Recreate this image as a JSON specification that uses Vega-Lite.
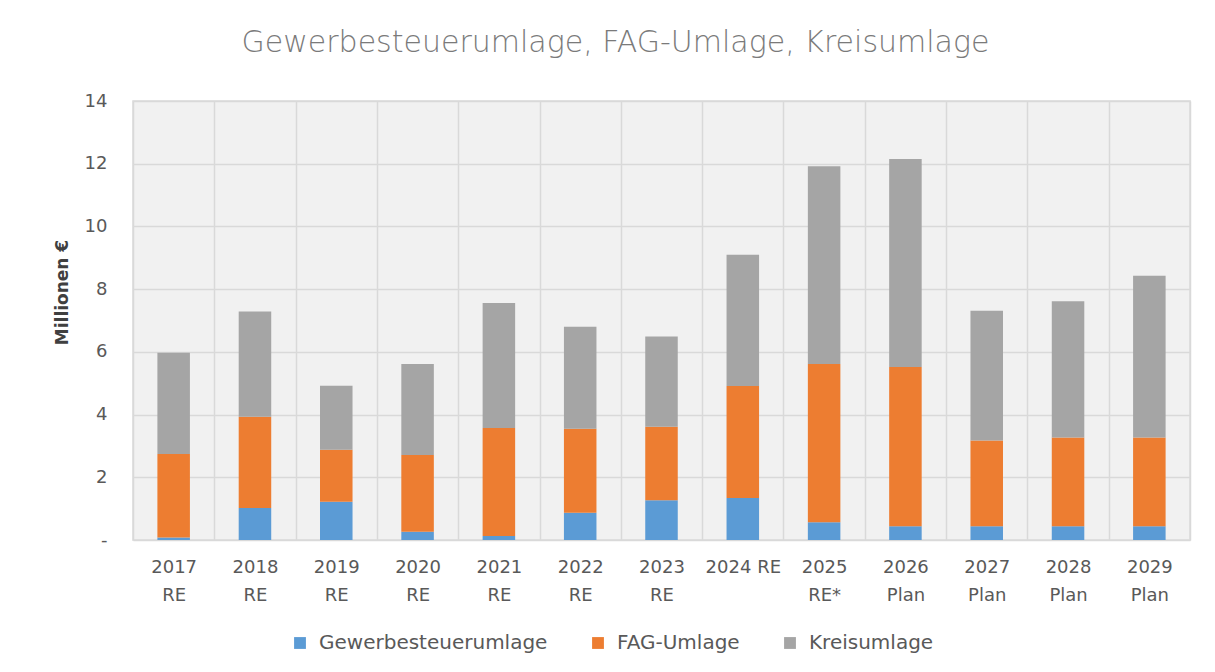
{
  "$schema": "https://vega.github.io/schema/vega-lite/v6.json",
  "autosize": "none",
  "width": 1057,
  "height": 439,
  "padding": {"left": 133, "top": 101, "right": 25, "bottom": 132},
  "background": "white",
  "title": {
    "text": "Gewerbesteuerumlage, FAG-Umlage, Kreisumlage",
    "font": "DejaVu Sans",
    "fontSize": 30,
    "fontWeight": 200,
    "color": "#7a7a7a",
    "anchor": "middle",
    "dx": -46,
    "offset": 34
  },
  "data": {
    "values": [
      {"Jahr": "2017 RE", "Nr": 1, "Art": "Gewerbesteuerumlage", "Wert": 0.08},
      {"Jahr": "2017 RE", "Nr": 2, "Art": "FAG-Umlage", "Wert": 2.66},
      {"Jahr": "2017 RE", "Nr": 3, "Art": "Kreisumlage", "Wert": 3.23},
      {"Jahr": "2018 RE", "Nr": 1, "Art": "Gewerbesteuerumlage", "Wert": 1.02},
      {"Jahr": "2018 RE", "Nr": 2, "Art": "FAG-Umlage", "Wert": 2.91},
      {"Jahr": "2018 RE", "Nr": 3, "Art": "Kreisumlage", "Wert": 3.36},
      {"Jahr": "2019 RE", "Nr": 1, "Art": "Gewerbesteuerumlage", "Wert": 1.22},
      {"Jahr": "2019 RE", "Nr": 2, "Art": "FAG-Umlage", "Wert": 1.66},
      {"Jahr": "2019 RE", "Nr": 3, "Art": "Kreisumlage", "Wert": 2.04},
      {"Jahr": "2020 RE", "Nr": 1, "Art": "Gewerbesteuerumlage", "Wert": 0.26},
      {"Jahr": "2020 RE", "Nr": 2, "Art": "FAG-Umlage", "Wert": 2.45},
      {"Jahr": "2020 RE", "Nr": 3, "Art": "Kreisumlage", "Wert": 2.9},
      {"Jahr": "2021 RE", "Nr": 1, "Art": "Gewerbesteuerumlage", "Wert": 0.13},
      {"Jahr": "2021 RE", "Nr": 2, "Art": "FAG-Umlage", "Wert": 3.44},
      {"Jahr": "2021 RE", "Nr": 3, "Art": "Kreisumlage", "Wert": 3.99},
      {"Jahr": "2022 RE", "Nr": 1, "Art": "Gewerbesteuerumlage", "Wert": 0.87},
      {"Jahr": "2022 RE", "Nr": 2, "Art": "FAG-Umlage", "Wert": 2.68},
      {"Jahr": "2022 RE", "Nr": 3, "Art": "Kreisumlage", "Wert": 3.25},
      {"Jahr": "2023 RE", "Nr": 1, "Art": "Gewerbesteuerumlage", "Wert": 1.27},
      {"Jahr": "2023 RE", "Nr": 2, "Art": "FAG-Umlage", "Wert": 2.34},
      {"Jahr": "2023 RE", "Nr": 3, "Art": "Kreisumlage", "Wert": 2.88},
      {"Jahr": "2024 RE", "Nr": 1, "Art": "Gewerbesteuerumlage", "Wert": 1.34},
      {"Jahr": "2024 RE", "Nr": 2, "Art": "FAG-Umlage", "Wert": 3.57},
      {"Jahr": "2024 RE", "Nr": 3, "Art": "Kreisumlage", "Wert": 4.19},
      {"Jahr": "2025 RE*", "Nr": 1, "Art": "Gewerbesteuerumlage", "Wert": 0.57},
      {"Jahr": "2025 RE*", "Nr": 2, "Art": "FAG-Umlage", "Wert": 5.04},
      {"Jahr": "2025 RE*", "Nr": 3, "Art": "Kreisumlage", "Wert": 6.31},
      {"Jahr": "2026 Plan", "Nr": 1, "Art": "Gewerbesteuerumlage", "Wert": 0.44},
      {"Jahr": "2026 Plan", "Nr": 2, "Art": "FAG-Umlage", "Wert": 5.08},
      {"Jahr": "2026 Plan", "Nr": 3, "Art": "Kreisumlage", "Wert": 6.63},
      {"Jahr": "2027 Plan", "Nr": 1, "Art": "Gewerbesteuerumlage", "Wert": 0.44},
      {"Jahr": "2027 Plan", "Nr": 2, "Art": "FAG-Umlage", "Wert": 2.73},
      {"Jahr": "2027 Plan", "Nr": 3, "Art": "Kreisumlage", "Wert": 4.14},
      {"Jahr": "2028 Plan", "Nr": 1, "Art": "Gewerbesteuerumlage", "Wert": 0.44},
      {"Jahr": "2028 Plan", "Nr": 2, "Art": "FAG-Umlage", "Wert": 2.83},
      {"Jahr": "2028 Plan", "Nr": 3, "Art": "Kreisumlage", "Wert": 4.34},
      {"Jahr": "2029 Plan", "Nr": 1, "Art": "Gewerbesteuerumlage", "Wert": 0.44},
      {"Jahr": "2029 Plan", "Nr": 2, "Art": "FAG-Umlage", "Wert": 2.83},
      {"Jahr": "2029 Plan", "Nr": 3, "Art": "Kreisumlage", "Wert": 5.16}
    ]
  },
  "mark": {"type": "bar", "width": {"band": 0.4}},
  "encoding": {
    "x": {
      "field": "Jahr",
      "type": "nominal",
      "sort": null,
      "scale": {"paddingInner": 0, "paddingOuter": 0},
      "axis": {
        "title": null,
        "labelAngle": 0,
        "labelExpr": "datum.label == '2024 RE' ? datum.label : split(datum.label, ' ')",
        "labelFont": "DejaVu Sans",
        "labelFontSize": 18,
        "labelColor": "#595959",
        "labelLineHeight": 28,
        "labelBaseline": "top",
        "labelPadding": 18,
        "ticks": false,
        "domain": false,
        "grid": true,
        "tickBand": "extent",
        "gridColor": "#d9d9d9",
        "gridWidth": 1.5
      }
    },
    "y": {
      "field": "Wert",
      "type": "quantitative",
      "stack": "zero",
      "scale": {"domain": [0, 14], "nice": false},
      "axis": {
        "title": "Millionen €",
        "titleFont": "DejaVu Sans",
        "titleFontSize": 17,
        "titleFontWeight": "bold",
        "titleColor": "#404040",
        "titleX": -71,
        "titleY": 191,
        "titleAngle": -90,
        "titleAlign": "center",
        "titleBaseline": "middle",
        "values": [0, 2, 4, 6, 8, 10, 12, 14],
        "labelExpr": "datum.value == 0 ? '-' : datum.label",
        "labelFont": "DejaVu Sans",
        "labelFontSize": 18,
        "labelColor": "#595959",
        "labelPadding": 26,
        "ticks": false,
        "domain": false,
        "grid": true,
        "gridColor": "#d9d9d9",
        "gridWidth": 1.5
      }
    },
    "color": {
      "field": "Art",
      "type": "nominal",
      "scale": {
        "domain": ["Gewerbesteuerumlage", "FAG-Umlage", "Kreisumlage"],
        "range": ["#5B9BD5", "#ED7D31", "#A5A5A5"]
      },
      "legend": {
        "title": null,
        "orient": "none",
        "direction": "horizontal",
        "legendX": 157,
        "legendY": 532,
        "symbolType": "square",
        "symbolSize": 140,
        "symbolStrokeWidth": 0,
        "labelFont": "DejaVu Sans",
        "labelFontSize": 20,
        "labelColor": "#595959",
        "labelLimit": 400,
        "columnPadding": 40,
        "labelOffset": 9
      }
    },
    "order": {"field": "Nr", "type": "quantitative", "sort": "ascending"}
  },
  "config": {
    "view": {"fill": "#f1f1f1", "stroke": "#d9d9d9", "strokeWidth": 1.5}
  }
}
